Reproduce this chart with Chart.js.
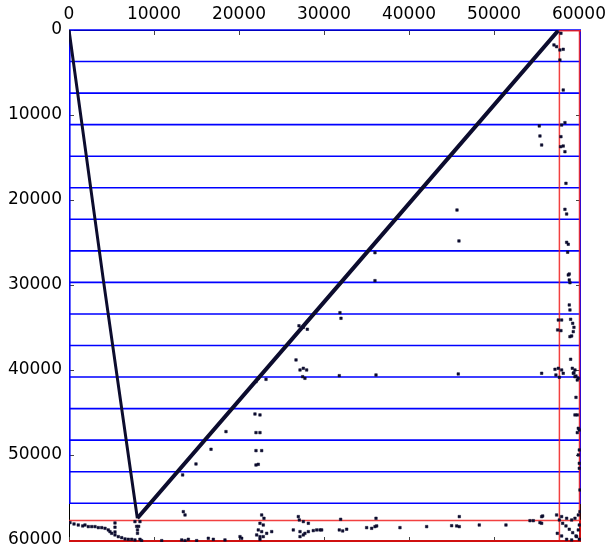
<!DOCTYPE html>
<html>
<head>
<meta charset="utf-8">
<script src="https://cdn.jsdelivr.net/npm/chart.js@4.4.1/dist/chart.umd.min.js"></script>
<style>
  body { margin: 0; background: #fff; }
  canvas { display: block; }
</style>
</head>
<body>
<canvas id="dotPlot" width="608" height="547"></canvas>
<script>
// axis range (both axes are the same sequence length)
const axisMax = 60240;
const tickValues = [0, 10000, 20000, 30000, 40000, 50000, 60000];

// contig boundaries drawn in blue, and the last block drawn in red
const blueBounds = [0, 3712, 7424, 11136, 14848, 18560, 22272, 25984, 29696,
  33408, 37120, 40832, 44544, 48256, 51968, 55680];
const redBound = 57700;

// the two long alignment runs (vertices)
const runDown = [[0, 0], [4040, 29400], [8040, 57450]];
const runUp = [[8040, 57450], [32080, 29610], [57550, 80]];

// scattered matches, right hand column
const dotsRight = [
  [57060, 1760], [57370, 1960], [57760, 2350], [58150, 2270], [57880, 390], [57760, 3530],
  [58150, 7060], [57960, 11180], [58350, 10900], [55330, 11290], [55410, 12470], [55610, 13530],
  [57880, 12550], [57840, 13730], [58150, 13650], [58350, 14320], [58470, 18040], [58350, 21100],
  [58550, 21650], [58550, 24980], [58740, 25210], [58670, 26150], [58740, 28820], [58860, 29410],
  [58940, 29730], [58860, 28710], [58860, 32350], [58940, 32940], [59020, 34040], [59260, 34510],
  [59410, 34980], [59330, 35490], [59140, 36000], [58940, 36080], [57570, 34120], [57960, 34120],
  [57490, 35290], [57880, 35370], [59020, 38740], [59220, 39800], [59330, 40390], [59530, 40000],
  [59650, 40710], [59920, 40980], [59800, 41180], [59530, 40790], [59410, 40320], [57180, 39920],
  [57570, 39800], [57960, 40000], [57690, 40860], [58150, 40390], [57290, 40590], [55610, 40390],
  [59650, 43220], [59530, 45290], [59800, 45290], [59920, 46860], [59800, 47370], [60040, 47060],
  [60040, 49410], [59920, 50000], [60040, 50980], [60040, 51570], [60120, 54120]
];

// scattered matches, bottom strip
const dotsBottom = [
  [118, 57960], [590, 58120], [1090, 58240], [1610, 58350], [1880, 58240], [2270, 58430],
  [2670, 58430], [3060, 58430], [3450, 58550], [3850, 58550], [4240, 58630], [4620, 58820],
  [4820, 59020], [5020, 59220], [5410, 59410], [5800, 59610], [6200, 59730], [6590, 59880],
  [6980, 59920], [7370, 59920], [7760, 60000], [8350, 59920], [8550, 60080],
  [5410, 58000], [5410, 58500], [5410, 59060],
  [7760, 57840], [7960, 58400], [8060, 58820], [8200, 58400], [8350, 57840], [8060, 59220],
  [13450, 56670], [13650, 57060],
  [10910, 60080], [13260, 60000], [13650, 60080], [14040, 59920], [15020, 60080], [16390, 59800],
  [16980, 59920], [18350, 60000], [20120, 59610], [20320, 59800],
  [22670, 57060], [22940, 57450], [22470, 58040], [22860, 58240], [22270, 58820], [22670, 59020],
  [22080, 59410], [22470, 59610], [22860, 59610], [23260, 59220], [23850, 59020], [22470, 59920],
  [26980, 57250], [27100, 57650], [27570, 57840], [28160, 58040], [26390, 58820], [27180, 59020],
  [27760, 59220], [28160, 59020], [28740, 58900], [29140, 58820], [29530, 58820], [27180, 59610],
  [27570, 59410],
  [29730, 58820], [31960, 57570], [31800, 58820], [32200, 58940], [32670, 58740], [36120, 57450],
  [35020, 58550], [35610, 58630], [36000, 58430], [36200, 58350], [38940, 58550], [42080, 58430],
  [45920, 57250], [45020, 58320], [45610, 58350], [45920, 58430], [48270, 58240], [51410, 58240],
  [54240, 57730], [54630, 57730], [55610, 57260], [55610, 58040], [55730, 57180], [55410, 57960],
  [57690, 57650], [58080, 58040], [58470, 58350], [58860, 58740], [59260, 59140], [59650, 59530],
  [60040, 59920], [57370, 57060], [57960, 57250], [58550, 57450], [59140, 57650], [59530, 57450],
  [59920, 57060], [60120, 56670], [57450, 59220], [57960, 59530], [58550, 59920], [59140, 60000],
  [59730, 59610], [59920, 58820], [60040, 58240]
];

// scattered matches, middle of the plot
const dotsMiddle = [
  [21880, 45180], [22470, 45290], [18470, 47250], [22000, 47370], [22470, 47370], [16710, 49330],
  [22000, 49490], [22670, 49490], [14940, 51060], [22000, 51180], [22270, 51100], [13370, 52350],
  [36000, 26200], [36000, 29490], [31880, 33260], [32000, 33920], [27060, 34800], [27570, 34980],
  [28040, 35210], [26710, 38820], [27180, 40000], [27570, 39800], [27960, 40000], [27490, 40790],
  [27760, 40980], [31800, 40670], [36120, 40590], [22270, 40980], [23180, 41100], [22000, 41370],
  [45650, 21180], [45880, 24820], [45800, 40470]
];

const toXY = (arr) => arr.map((p) => ({ x: p[0], y: p[1] }));
const dotColor = "#0c0c2e";

// draws the frame, the contig boxes and the inward ticks using the chart scales
const boxLines = {
  id: "boxLines",
  beforeDatasetsDraw(chart) {
    const ctx = chart.ctx;
    const xs = chart.scales.x;
    const ys = chart.scales.y;
    const X = (v) => xs.getPixelForValue(v);
    const Y = (v) => ys.getPixelForValue(v);
    ctx.save();
    // spines
    ctx.strokeStyle = "#000";
    ctx.lineWidth = 1;
    ctx.strokeRect(X(0) + 0.5, Y(0) + 0.5, X(axisMax) - X(0) - 1, Y(axisMax) - Y(0) - 1);
    // inward ticks on all four sides
    ctx.strokeStyle = "#444";
    tickValues.forEach((v) => {
      const px = Math.round(X(v)) + 0.5;
      const py = Math.round(Y(v)) + 0.5;
      ctx.beginPath();
      ctx.moveTo(px, Y(0)); ctx.lineTo(px, Y(0) + 5);
      ctx.moveTo(px, Y(axisMax)); ctx.lineTo(px, Y(axisMax) - 5);
      ctx.moveTo(X(0), py); ctx.lineTo(X(0) + 5, py);
      ctx.moveTo(X(axisMax), py); ctx.lineTo(X(axisMax) - 5, py);
      ctx.stroke();
    });
    // blue contig lines
    ctx.strokeStyle = "#0000ff";
    ctx.lineWidth = 1.6;
    ctx.beginPath();
    blueBounds.forEach((b) => {
      ctx.moveTo(X(0), Y(b));
      ctx.lineTo(X(axisMax), Y(b));
    });
    const lastBlue = blueBounds[blueBounds.length - 1];
    ctx.moveTo(X(0) + 0.8, Y(0)); ctx.lineTo(X(0) + 0.8, Y(lastBlue));
    ctx.moveTo(X(axisMax) - 0.8, Y(0)); ctx.lineTo(X(axisMax) - 0.8, Y(lastBlue));
    ctx.stroke();
    // red last block
    ctx.strokeStyle = "rgba(240,30,30,0.85)";
    ctx.lineWidth = 1.5;
    ctx.beginPath();
    ctx.moveTo(X(0), Y(redBound)); ctx.lineTo(X(axisMax), Y(redBound));
    ctx.moveTo(X(redBound), Y(0)); ctx.lineTo(X(redBound), Y(axisMax));
    ctx.moveTo(X(redBound), Y(0) + 0.8); ctx.lineTo(X(axisMax), Y(0) + 0.8);
    ctx.stroke();
    ctx.strokeStyle = "#d01010";
    ctx.lineWidth = 2;
    ctx.beginPath();
    ctx.moveTo(X(0), Y(axisMax) - 1); ctx.lineTo(X(axisMax), Y(axisMax) - 1);
    ctx.moveTo(X(axisMax) - 1, Y(redBound)); ctx.lineTo(X(axisMax) - 1, Y(axisMax));
    ctx.stroke();
    ctx.strokeStyle = "rgba(240,30,30,0.85)";
    ctx.lineWidth = 1.5;
    ctx.beginPath();
    ctx.moveTo(X(axisMax) - 1.5, Y(0)); ctx.lineTo(X(axisMax) - 1.5, Y(redBound));
    ctx.stroke();
    ctx.restore();
  },
};

const tickFont = { family: "DejaVu Sans", size: 17 };
// fixed tick positions and plain labels (no thousands separator)
const fixTicks = (scale) => { scale.ticks = tickValues.map((v) => ({ value: v })); };
const plainLabel = (value) => String(value);

const chart = new Chart(document.getElementById("dotPlot"), {
  type: "scatter",
  data: {
    datasets: [
      {
        data: toXY(runDown),
        showLine: true,
        borderColor: dotColor,
        borderWidth: 3,
        pointRadius: 0,
      },
      {
        data: toXY(runUp),
        showLine: true,
        borderColor: dotColor,
        borderWidth: 4,
        pointRadius: 0,
      },
      {
        data: toXY(dotsRight.concat(dotsBottom, dotsMiddle)),
        pointStyle: "rect",
        pointRadius: 1.8,
        backgroundColor: dotColor,
        borderColor: dotColor,
        borderWidth: 0.5,
      },
    ],
  },
  options: {
    responsive: false,
    animation: false,
    devicePixelRatio: 1,
    layout: { padding: { left: 0, right: 27, top: 0, bottom: 5 } },
    plugins: { legend: { display: false }, tooltip: { enabled: false } },
    scales: {
      x: {
        type: "linear",
        position: "top",
        min: 0,
        max: axisMax,
        grid: { display: false, drawTicks: false },
        border: { display: false },
        afterBuildTicks: fixTicks,
        ticks: {
          callback: plainLabel,
          color: "#000",
          font: tickFont,
          padding: 5,
          maxRotation: 0,
          autoSkip: false,
        },
        afterFit: (scale) => {
          scale.height = 30;
          scale.paddingLeft = 0;
          scale.paddingRight = 0;
        },
      },
      y: {
        type: "linear",
        reverse: true,
        min: 0,
        max: axisMax,
        grid: { display: false, drawTicks: false },
        border: { display: false },
        afterBuildTicks: fixTicks,
        ticks: {
          callback: plainLabel,
          color: "#000",
          font: tickFont,
          padding: 7,
          autoSkip: false,
        },
        afterFit: (scale) => {
          scale.width = 69;
          scale.paddingTop = 0;
          scale.paddingBottom = 0;
        },
      },
    },
  },
  plugins: [boxLines],
});
</script>
</body>
</html>
